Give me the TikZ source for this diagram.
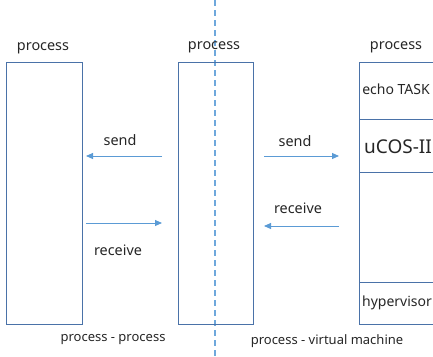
\documentclass[tikz,border=0pt]{standalone}
\usepackage{fontspec}
\setmainfont{Noto Sans}
\usetikzlibrary{arrows.meta}
\definecolor{boxblue}{HTML}{4A72A8}
\definecolor{arrblue}{HTML}{5B9BD5}
\definecolor{dashblue}{HTML}{6FA8DC}
\begin{document}
\begin{tikzpicture}[x=1pt,y=-1pt,
  procbox/.style={draw=boxblue,line width=1pt},
  msg/.style={draw=arrblue,line width=0.9pt,-{Triangle[length=7pt,width=6pt]}},
  lbl/.style={font=\fontsize{14.4}{16}\selectfont,text=black!85,inner sep=0pt},
  captext/.style={font=\fontsize{13}{15}\selectfont,text=black!85,inner sep=0pt}]
\useasboundingbox (0,0) rectangle (433,356);
% dashed divider
\draw[dashblue,line width=1.3pt,dash pattern=on 6pt off 4pt] (215,0) -- (215,356);
% boxes
\draw[procbox] (6,62) rectangle (82,324);
\draw[procbox] (178,62) rectangle (253,324);
\draw[procbox] (433,62) -- (359,62) -- (359,324) -- (433,324);
\draw[procbox] (359,119) -- (433,119);
\draw[procbox] (359,172) -- (433,172);
\draw[procbox] (359,282) -- (433,282);
% titles
\node[lbl] (t1) at (43,48) {process};
\node[lbl] (t2) at (214,47) {process};
\node[lbl] (t3) at (396,47) {process};
\node[lbl,font=\fontsize{14}{16}\selectfont] (echo) at (396,89) {echo TASK};
\node[lbl,font=\fontsize{19}{21}\selectfont] (ucos) at (398,147) {uCOS-II};
\node[lbl,font=\fontsize{14}{16}\selectfont] (hyp) at (397,303) {hypervisor};
% arrows
\coordinate (a1s) at (162,156); \coordinate (a1e) at (86,156);
\coordinate (a2s) at (86,223); \coordinate (a2e) at (162,223);
\coordinate (a3s) at (264,156); \coordinate (a3e) at (339,156);
\coordinate (a4s) at (339,226); \coordinate (a4e) at (264,226);
\draw[msg] (a1s) -- (a1e);
\draw[msg] (a2s) -- (a2e);
\draw[msg] (a3s) -- (a3e);
\draw[msg] (a4s) -- (a4e);
\node[lbl] (s1) at (120,140) {send};
\node[lbl] (r1) at (118,250) {receive};
\node[lbl] (s2) at (295,141) {send};
\node[lbl] (r2) at (298,208) {receive};
\node[captext] (c1) at (113,340) {process - process};
\node[captext] (c2) at (327,341) {process - virtual machine};
\end{tikzpicture}
\end{document}
